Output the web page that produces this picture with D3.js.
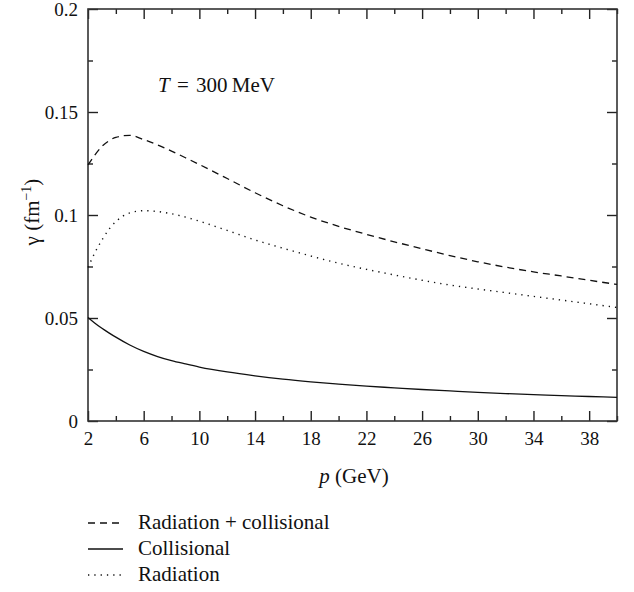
<!DOCTYPE html>
<html>
<head>
<meta charset="utf-8">
<script src="https://cdn.jsdelivr.net/npm/d3@7"></script>
<style>
  body { margin: 0; background: #fff; }
  svg { font-family: "Liberation Serif", "DejaVu Serif", serif; }
  .axis text { font-family: "Liberation Serif", serif; font-size: 19px; fill: #111; }
  .axis line { stroke: #222; stroke-width: 1.4px; }
  .axis path { display: none; }
</style>
</head>
<body>
<svg width="634" height="592"></svg>
<script>
// momentum grid (GeV)
var momentum = [2, 2.5, 3, 3.5, 4, 5, 6, 7, 8, 9, 10, 12, 14, 16, 18, 20, 22, 24, 26, 28, 30, 32, 34, 36, 38, 40];
// damping rate gamma (fm^-1)
var totalRate = [0.1243, 0.1292, 0.1333, 0.1360, 0.1377, 0.1387, 0.1366, 0.1340, 0.1310, 0.1278, 0.1245, 0.1177, 0.1108, 0.1045, 0.0990, 0.0945, 0.0906, 0.0870, 0.0836, 0.0803, 0.0773, 0.0747, 0.0724, 0.0704, 0.0683, 0.0663];
var collRate = [0.0503, 0.0475, 0.0450, 0.0428, 0.0407, 0.0369, 0.0338, 0.0313, 0.0293, 0.0277, 0.0262, 0.0238, 0.0219, 0.0203, 0.0190, 0.0179, 0.0169, 0.0161, 0.0153, 0.0146, 0.0139, 0.0133, 0.0128, 0.0123, 0.0119, 0.0115];
var radRate = [0.0745, 0.0818, 0.0878, 0.0930, 0.0968, 0.1010, 0.1021, 0.1017, 0.1006, 0.0990, 0.0970, 0.0925, 0.0879, 0.0839, 0.0801, 0.0766, 0.0736, 0.0709, 0.0683, 0.0660, 0.0641, 0.0623, 0.0605, 0.0587, 0.0569, 0.0551];

var xTicks = [2, 6, 10, 14, 18, 22, 26, 30, 34, 38];
var xMinor = [4, 8, 12, 16, 20, 24, 28, 32, 36, 40];
var yTicks = [0, 0.05, 0.1, 0.15, 0.2];
var yTickLabels = ["0", "0.05", "0.1", "0.15", "0.2"];
var yMinor = [0.025, 0.075, 0.125, 0.175];

var legendNames = ["Radiation + collisional", "Collisional", "Radiation"];

var svg = d3.select("svg"),
    margin = {top: 9, right: 17, bottom: 171, left: 88},
    width = +svg.attr("width") - margin.left - margin.right,
    height = +svg.attr("height") - margin.top - margin.bottom;

var x = d3.scaleLinear().domain([2, 40]).range([0, width]);
var y = d3.scaleLinear().domain([0, 0.2]).range([height, 0]);

var g = svg.append("g")
    .attr("transform", "translate(" + margin.left + "," + margin.top + ")");

// ticks (inward), all four sides
g.append("g").attr("class", "axis")
    .attr("transform", "translate(0," + height + ")")
    .call(d3.axisBottom(x).tickValues(xTicks).tickSizeInner(-10).tickSizeOuter(0).tickPadding(11));
g.append("g").attr("class", "axis")
    .attr("transform", "translate(0," + height + ")")
    .call(d3.axisBottom(x).tickValues(xMinor).tickSizeInner(-5).tickSizeOuter(0).tickFormat(""));
g.append("g").attr("class", "axis")
    .call(d3.axisTop(x).tickValues(xTicks).tickSizeInner(-10).tickSizeOuter(0).tickFormat(""));
g.append("g").attr("class", "axis")
    .call(d3.axisTop(x).tickValues(xMinor).tickSizeInner(-5).tickSizeOuter(0).tickFormat(""));

g.append("g").attr("class", "axis")
    .call(d3.axisLeft(y).tickValues(yTicks).tickSizeInner(-10).tickSizeOuter(0).tickPadding(10)
        .tickFormat(function (d, i) { return yTickLabels[i]; }));
g.append("g").attr("class", "axis")
    .call(d3.axisLeft(y).tickValues(yMinor).tickSizeInner(-5).tickSizeOuter(0).tickFormat(""));
g.append("g").attr("class", "axis")
    .attr("transform", "translate(" + width + ",0)")
    .call(d3.axisRight(y).tickValues(yTicks).tickSizeInner(-10).tickSizeOuter(0).tickFormat(""));
g.append("g").attr("class", "axis")
    .attr("transform", "translate(" + width + ",0)")
    .call(d3.axisRight(y).tickValues(yMinor).tickSizeInner(-5).tickSizeOuter(0).tickFormat(""));

// frame
g.append("rect")
    .attr("width", width).attr("height", height)
    .attr("fill", "none").attr("stroke", "#333").attr("stroke-width", 1.6);

var styles = [
    {dash: "7,5", width: 1.3},
    {dash: null, width: 1.3},
    {dash: "1.3,5", width: 1.4}
];
var seriesList = [totalRate, collRate, radRate];

var line = d3.line()
    .x(function (d) { return x(d[0]); })
    .y(function (d) { return y(d[1]); })
    .curve(d3.curveMonotoneX);

seriesList.forEach(function (vals, i) {
    g.append("path")
        .datum(momentum.map(function (p, j) { return [p, vals[j]]; }))
        .attr("fill", "none")
        .attr("stroke", "#111")
        .attr("stroke-width", styles[i].width)
        .attr("stroke-dasharray", styles[i].dash)
        .attr("d", line);
});

// annotation
var ann = g.append("text")
    .attr("x", x(7.03)).attr("y", y(0.1597))
    .attr("font-size", 21).attr("fill", "#111")
    .attr("word-spacing", 2);
ann.append("tspan").attr("font-style", "italic").text("T");
ann.append("tspan").text(" = 300\u2009MeV");

// axis titles
var xt = svg.append("text")
    .attr("x", 354).attr("y", 483)
    .attr("text-anchor", "middle")
    .attr("font-size", 21).attr("fill", "#111");
xt.append("tspan").attr("font-style", "italic").text("p");
xt.append("tspan").text(" (GeV)");

var yt = svg.append("text")
    .attr("transform", "translate(39,212) rotate(-90)")
    .attr("text-anchor", "middle")
    .attr("font-size", 21).attr("fill", "#111");
yt.append("tspan").text("\u03b3 (fm");
yt.append("tspan").attr("font-size", 14).attr("dy", -8).text("\u22121");
yt.append("tspan").attr("dy", 8).text(")");

// legend
var legend = svg.append("g").attr("transform", "translate(88,523)");
legendNames.forEach(function (name, i) {
    var row = legend.append("g").attr("transform", "translate(0," + (i * 26) + ")");
    row.append("line")
        .attr("x1", 0).attr("x2", 35).attr("y1", 0).attr("y2", 0)
        .attr("stroke", "#111")
        .attr("stroke-width", styles[i].width)
        .attr("stroke-dasharray", styles[i].dash);
    row.append("text")
        .attr("x", 50).attr("y", 6)
        .attr("font-size", 21).attr("fill", "#111")
        .text(name);
});
</script>
</body>
</html>
